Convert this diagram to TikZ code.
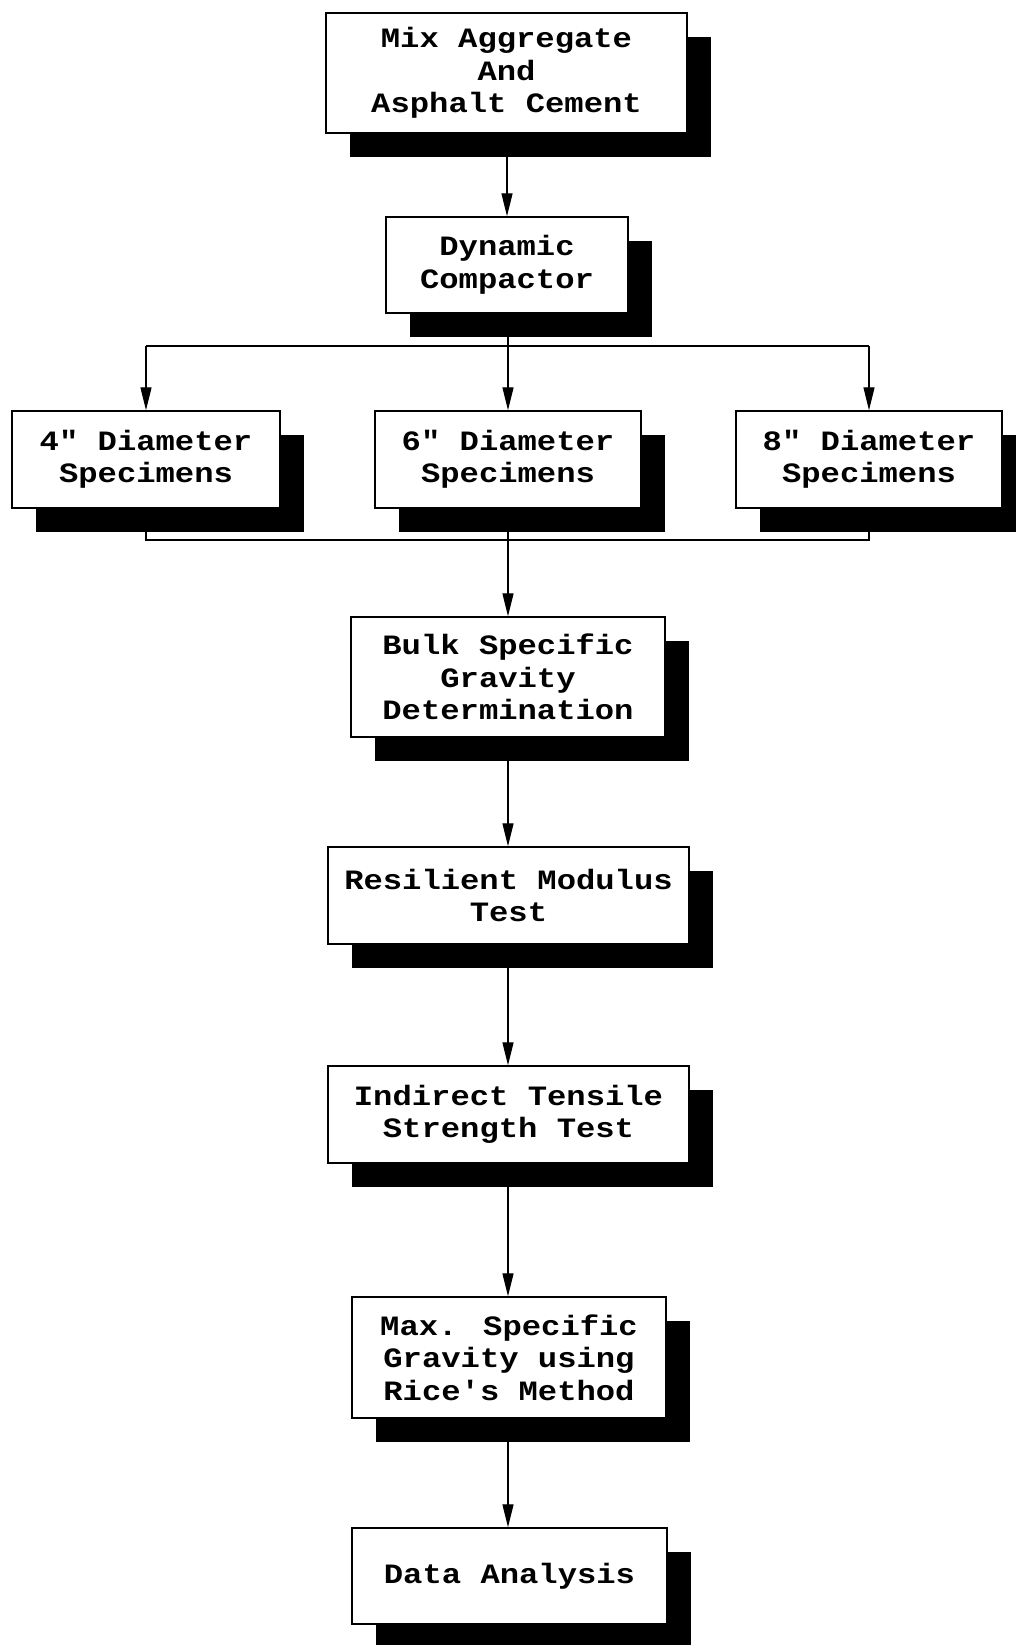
\documentclass[tikz,border=0pt]{standalone}
\usepackage{fontspec}
\newfontfamily\boxfont{Liberation Mono}[FakeStretch=1.15]
\usetikzlibrary{arrows.meta,shadows,calc}
\begin{document}
\begin{tikzpicture}[x=1pt,y=-1pt,
  box/.style={draw, line width=1.4pt, fill=white, align=center, inner sep=0pt,
    font=\boxfont\bfseries\fontsize{28}{32.5}\selectfont,
    drop shadow={shadow xshift=24pt, shadow yshift=-24pt, fill=black, opacity=1}},
  link/.style={line width=1.2pt},
  arr/.style={line width=1.2pt, -{Triangle[length=23pt,width=11pt]}}]
\useasboundingbox[fill=white] (0,0) rectangle (1015,1645);

\node[box, minimum width=361pt, minimum height=120pt] (mix) at (506.5,73) {Mix Aggregate\\And\\Asphalt Cement};
\node[box, minimum width=242pt, minimum height=96pt] (comp) at (507,265) {Dynamic\\Compactor};
\node[box, minimum width=268pt, minimum height=97pt] (b4) at (146,459.5) {4" Diameter\\Specimens};
\node[box, minimum width=266pt, minimum height=97pt] (b6) at (508,459.5) {6" Diameter\\Specimens};
\node[box, minimum width=266pt, minimum height=97pt] (b8) at (869,459.5) {8" Diameter\\Specimens};
\node[box, minimum width=314pt, minimum height=120pt] (bulk) at (508,677) {Bulk Specific\\Gravity\\Determination};
\node[box, minimum width=361pt, minimum height=97pt] (res) at (508.5,895.5) {Resilient Modulus\\Test};
\node[box, minimum width=361pt, minimum height=97pt] (itt) at (508.5,1114.5) {Indirect Tensile\\Strength Test};
\node[box, minimum width=314pt, minimum height=121pt] (max) at (509,1357.5) {Max. Specific\\Gravity using\\Rice's Method};
\node[box, minimum width=315pt, minimum height=96pt] (data) at (509.5,1576) {Data Analysis};

\coordinate (split) at (508,346);
\coordinate (join) at (508,540);

\draw[arr] (mix.south -| comp.north) -- (comp.north);
\draw[link] (comp.south -| split) -- (split);
\draw[link] (split -| b4.north) -- (split -| b8.north);
\draw[arr] (split -| b4.north) -- (b4.north);
\draw[arr] (split -| b6.north) -- (b6.north);
\draw[arr] (split -| b8.north) -- (b8.north);
\draw[link] (b4.south) -- (join -| b4.south) -- (join -| b8.south) -- (b8.south);
\draw[link] (b6.south) -- (join);
\draw[arr] (join) -- (join |- bulk.north);
\draw[arr] (bulk.south) -- (bulk.south |- res.north);
\draw[arr] (res.south -| bulk.south) -- (bulk.south |- itt.north);
\draw[arr] (itt.south -| bulk.south) -- (bulk.south |- max.north);
\draw[arr] (max.south -| bulk.south) -- (bulk.south |- data.north);
\end{tikzpicture}
\end{document}
